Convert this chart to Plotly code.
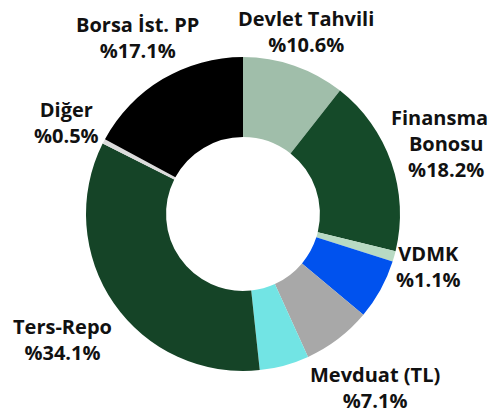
import math
import plotly.graph_objects as go

# Portföy dağılımı (%)
labels = ["Devlet Tahvili", "Finansman Bonosu", "VDMK", "Diğer Menkul",
          "Mevduat (TL)", "Katılma Payı", "Ters-Repo", "Diğer", "Borsa İst. PP"]
values = [10.6, 18.2, 1.1, 6.2, 7.1, 5.1, 34.1, 0.5, 17.1]
show_label = [True, True, True, False, True, False, True, True, True]
display_names = ["Devlet Tahvili", "Finansman<br>Bonosu", "VDMK", "",
                 "Mevduat (TL)", "", "Ters-Repo", "Diğer", "Borsa İst. PP"]
colors = ["#A0BEAA", "#154A29", "#B8DAC3", "#0052EE",
          "#A8A8A8", "#72E4E4", "#154427", "#DCDCDC", "#000000"]

W, H = 497, 411
M = dict(l=78, r=105, t=49, b=48)
plot_w = W - M["l"] - M["r"]
plot_h = H - M["t"] - M["b"]
R = min(plot_w, plot_h) / 2
FS = 20

fig = go.Figure(go.Pie(
    labels=labels, values=values,
    textinfo="none", sort=False, direction="clockwise", rotation=0,
    hole=0.49,
    marker=dict(colors=colors, line=dict(width=0)),
    showlegend=False,
))

# Open Sans Bold yaklaşık karakter genişlikleri (em)
CW = {"%": 0.865, ".": 0.286, " ": 0.26, "-": 0.322, "(": 0.322, ")": 0.322,
      "D": 0.716, "T": 0.564, "B": 0.689, "P": 0.647, "İ": 0.343, "F": 0.571,
      "V": 0.654, "M": 0.926, "K": 0.654, "R": 0.677, "L": 0.56,
      "a": 0.586, "e": 0.575, "v": 0.551, "l": 0.3, "t": 0.397, "h": 0.64,
      "i": 0.3, "ğ": 0.569, "g": 0.569, "r": 0.424, "o": 0.611, "s": 0.487,
      "n": 0.64, "m": 0.974, "u": 0.64, "d": 0.635, "p": 0.635}


def text_w(line):
    return sum(0.572 if c.isdigit() else CW.get(c, 0.58) for c in line) * 20.5


total = sum(values)
cum = 0
annotations = []
for name, v, show in zip(display_names, values, show_label):
    mid = (cum + v / 2) / total * 2 * math.pi
    cum += v
    if not show:
        continue
    txt = f"{name}<br>%{v}%"
    lines = txt.split("<br>")
    w = max(text_w(s) for s in lines)
    h = len(lines) * 23 - 4
    sx, sy = math.sin(mid), math.cos(mid)
    r = R + 2 - 7 * sy - 5 * sx + abs(sx) * w / 2 + abs(sy) * h / 2
    annotations.append(dict(
        x=0.5 + r * sx / plot_w, y=0.5 + r * sy / plot_h,
        xref="paper", yref="paper", xanchor="center", yanchor="middle",
        text=txt, showarrow=False, align="center",
        font=dict(family="Open Sans, sans-serif", size=FS, color="#111111", weight="bold"),
    ))

fig.update_layout(
    width=W, height=H,
    margin=M,
    paper_bgcolor="white", plot_bgcolor="white",
    annotations=annotations,
)

fig.write_html("out.html")
